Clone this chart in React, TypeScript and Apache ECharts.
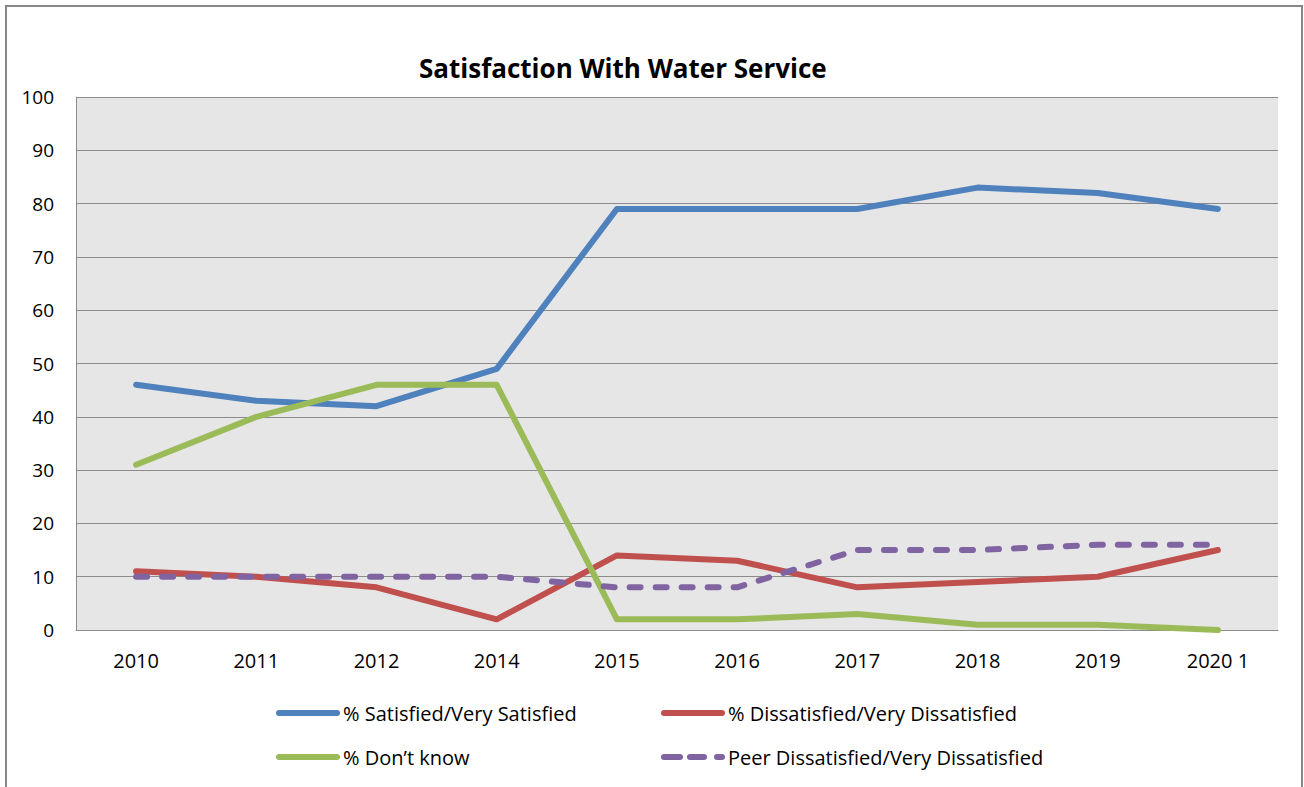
import React, { useEffect, useRef } from "react";
import * as echarts from "echarts";

const categories = ["2010", "2011", "2012", "2014", "2015", "2016", "2017", "2018", "2019", "2020 1"];
const satisfied = [46, 43, 42, 49, 79, 79, 79, 83, 82, 79];
const dissatisfied = [11, 10, 8, 2, 14, 13, 8, 9, 10, 15];
const dontKnow = [31, 40, 46, 46, 2, 2, 3, 1, 1, 0];
const peerDissatisfied = [10, 10, 10, 10, 8, 8, 15, 15, 16, 16];
const yTicks = { min: 0, max: 100, interval: 10 };

const FONT = "'Open Sans', 'Noto Sans', sans-serif";

function dashPath(segs: [number, number][]) {
  return (
    "path://" +
    segs
      .map(([a, b]) => `M${a + 3},0 L${b - 3},0 A3,3 0 0 1 ${b - 3},6 L${a + 3},6 A3,3 0 0 1 ${a + 3},0 Z`)
      .join(" ")
  );
}
const solidIcon = dashPath([[0, 64]]);
const dashedIcon = dashPath([[0, 22], [26, 46], [53, 64]]);

export default function App() {
  const ref = useRef<HTMLDivElement>(null);
  useEffect(() => {
    if (!ref.current) return;
    const chart = echarts.init(ref.current, null, { renderer: "svg" });
    const lineSeries = (name: string, data: number[], color: string, dashed = false) => ({
      name,
      type: "line",
      data,
      symbol: "none",
      showSymbol: false,
      lineStyle: {
        color,
        width: 6,
        type: dashed ? [11, 15] : "solid",
        cap: "round",
        join: "round",
      },
      itemStyle: { color },
      z: 3,
    });
    const legendItem = (name: string, left: number, centerY: number, icon: string) => ({
      left,
      top: centerY - 12,
      padding: 0,
      itemWidth: 64,
      itemHeight: 6,
      itemGap: 0,
      icon,
      textStyle: { fontFamily: FONT, fontSize: 20, lineHeight: 24, color: "#000000", padding: [0, 0, 0, -2] },
      data: [name],
    });
    chart.setOption({
      animation: false,
      backgroundColor: "#ffffff",
      title: {
        text: "Satisfaction With Water Service",
        left: 419,
        top: 55,
        padding: 0,
        textStyle: { fontFamily: FONT, fontWeight: "bold", fontSize: 26, color: "#000000" },
      },
      graphic: [
        {
          type: "rect",
          shape: { x: 6, y: 6, width: 1296, height: 800 },
          style: { fill: "none", stroke: "#878787", lineWidth: 2 },
          silent: true,
        },
      ],
      legend: [
        legendItem("% Satisfied/Very Satisfied", 276, 713, solidIcon),
        legendItem("% Don\u2019t know", 276, 757, solidIcon),
        legendItem("% Dissatisfied/Very Dissatisfied", 661, 713, solidIcon),
        legendItem("Peer Dissatisfied/Very Dissatisfied", 661, 757, dashedIcon),
      ],
      grid: { left: 76, top: 97, right: 26, bottom: 157, show: true, backgroundColor: "#e6e6e6", borderWidth: 0 },
      xAxis: {
        type: "category",
        data: categories,
        boundaryGap: true,
        axisLine: { show: true, lineStyle: { color: "#8c8c8c", width: 1 } },
        axisTick: { show: false },
        axisLabel: { fontFamily: FONT, fontSize: 20, color: "#000000", margin: 20 },
      },
      yAxis: {
        type: "value",
        min: yTicks.min,
        max: yTicks.max,
        interval: yTicks.interval,
        axisLine: { show: true, lineStyle: { color: "#8c8c8c", width: 1 } },
        axisTick: { show: false },
        axisLabel: { fontFamily: FONT, fontSize: 19, color: "#000000", margin: 22 },
        splitLine: { show: true, lineStyle: { color: "#8c8c8c", width: 1 } },
      },
      series: [
        lineSeries("% Satisfied/Very Satisfied", satisfied, "#4f81bd"),
        lineSeries("% Dissatisfied/Very Dissatisfied", dissatisfied, "#c0504d"),
        lineSeries("% Don\u2019t know", dontKnow, "#9bbb59"),
        lineSeries("Peer Dissatisfied/Very Dissatisfied", peerDissatisfied, "#8064a2", true),
      ],
    });
    return () => chart.dispose();
  }, []);
  return <div ref={ref} style={{ position: "fixed", left: 0, top: 0, width: 1304, height: 787 }} />;
}
